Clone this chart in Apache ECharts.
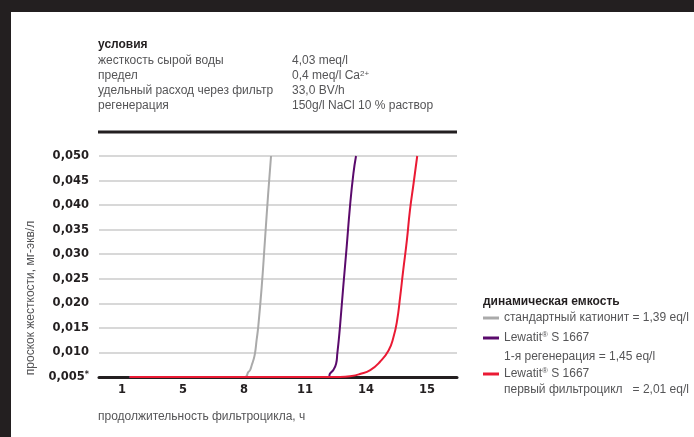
<!DOCTYPE html>
<html>
<head>
<meta charset="utf-8">
<script src="https://cdn.jsdelivr.net/npm/echarts@6/dist/echarts.min.js"></script>
<style>
  html, body { margin: 0; padding: 0; background: #ffffff; }
  #chart { width: 694px; height: 437px; }
</style>
</head>
<body>
<div id="chart"></div>
<script>
// ---- data ----
const tickHours = [1, 5, 8, 11, 14, 15];
const tickLabels = ['1', '5', '8', '11', '14', '15'];
const yTicks = [0.005, 0.010, 0.015, 0.020, 0.025, 0.030, 0.035, 0.040, 0.045, 0.050];

const seriesNames = [
  'стандартный катионит = 1,39 eq/l',
  'Lewatit® S 1667 (1-я регенерация)',
  'Lewatit® S 1667 (первый фильтроцикл)'
];

const standardHours  = [1.5, 8.05, 8.21, 8.30, 8.38, 8.46, 8.54, 8.62, 8.70, 8.87, 9.03, 9.19, 9.33];
const standardValues = [0.005, 0.005, 0.0060, 0.0064, 0.0074, 0.0084, 0.0098, 0.0125, 0.0152, 0.0233, 0.0328, 0.0424, 0.050];

const regenHours  = [1.5, 12.15, 12.23, 12.39, 12.53, 12.59, 12.66, 12.72, 12.88, 13.05, 13.21, 13.38, 13.51];
const regenValues = [0.005, 0.005, 0.0057, 0.0064, 0.0077, 0.0098, 0.0125, 0.0152, 0.0233, 0.0315, 0.0396, 0.0464, 0.050];

const firstHours  = [1.5, 12.72, 13.30, 13.70, 14.07, 14.23, 14.37, 14.45, 14.51, 14.56, 14.61, 14.67, 14.72, 14.78, 14.84];
const firstValues = [0.005, 0.005, 0.0052, 0.0056, 0.0064, 0.0081, 0.0104, 0.0131, 0.0165, 0.0213, 0.0267, 0.0328, 0.0389, 0.0444, 0.050];

const colors = ['#aaaaaa', '#5a0a6c', '#ea1a34'];

// The x axis shows equally spaced but non-linear hour labels:
// map hours to the label slot positions piecewise between ticks.
function hourToSlot(h) {
  for (let i = 0; i < tickHours.length - 1; i++) {
    if (h <= tickHours[i + 1] || i === tickHours.length - 2) {
      return i + (h - tickHours[i]) / (tickHours[i + 1] - tickHours[i]);
    }
  }
  return 0;
}
function pairs(hours, values) {
  return hours.map((h, i) => [hourToSlot(h), values[i]]);
}

const textGray = '#555557';
const dark = '#231f20';
const baseFont = '"Liberation Sans", Arial, sans-serif';

const chart = echarts.init(document.getElementById('chart'));

const lineSeries = [
  [standardHours, standardValues],
  [regenHours, regenValues],
  [firstHours, firstValues]
].map((d, i) => ({
  name: seriesNames[i],
  type: 'line',
  data: pairs(d[0], d[1]),
  symbol: 'none',
  smooth: 0.5,
  lineStyle: { color: colors[i], width: 2 },
  itemStyle: { color: colors[i] },
  z: 3 + i
}));

const legendFirstLines = [
  'стандартный катионит = 1,39 eq/l',
  'Lewatit{r|®} S 1667',
  'Lewatit{r|®} S 1667'
];
const legendTops = [311, 331, 367];

const legends = seriesNames.map((n, i) => ({
  data: [n],
  left: 483,
  top: legendTops[i],
  padding: 0,
  icon: 'rect',
  itemWidth: 16,
  itemHeight: 3,
  formatter: () => legendFirstLines[i],
  textStyle: {
    color: textGray,
    fontSize: 12,
    lineHeight: 14,
    fontFamily: baseFont,
    rich: {
      r: { fontSize: 8, verticalAlign: 'top', lineHeight: 9, color: textGray, fontFamily: baseFont }
    }
  }
}));

function txt(x, y, text, opts) {
  return {
    type: 'text', x: x, y: y, silent: true,
    style: Object.assign({
      text: text, fill: textGray,
      font: '12px ' + baseFont,
      verticalAlign: 'middle', align: 'left'
    }, opts || {})
  };
}

const yName = txt(31, 298, 'проскок жесткости, мг-экв/л', { align: 'center' });
yName.rotation = Math.PI / 2;

const option = {
  animation: false,
  backgroundColor: '#ffffff',
  grid: { left: 99, right: 237, top: 156, bottom: 60 },
  xAxis: {
    type: 'value',
    min: -0.377,
    max: 5.492,
    axisLine: { show: true, lineStyle: { color: dark, width: 3 } },
    axisTick: { show: false },
    splitLine: { show: false },
    axisLabel: {
      customValues: [0, 1, 2, 3, 4, 5],
      formatter: v => tickLabels[Math.round(v)],
      color: dark,
      fontWeight: 'bold',
      fontSize: 11.5,
      fontFamily: '"DejaVu Sans", sans-serif',
      margin: 7
    }
  },
  yAxis: {
    type: 'value',
    min: yTicks[0],
    max: yTicks[yTicks.length - 1],
    interval: 0.005,
    axisLine: { show: false },
    axisTick: { show: false },
    splitLine: { lineStyle: { color: '#cbcbcb', width: 1.5 } },
    axisLabel: {
      margin: 10,
      color: dark,
      fontWeight: 'bold',
      fontSize: 11.5,
      fontFamily: '"DejaVu Sans", sans-serif',
      formatter: v => {
        const s = v.toFixed(3).replace('.', ',');
        return Math.abs(v - yTicks[0]) < 1e-9 ? s + '{s|*}' : s;
      },
      rich: {
        s: { fontSize: 8, verticalAlign: 'top', lineHeight: 8, color: dark, fontWeight: 'bold', fontFamily: '"DejaVu Sans", sans-serif' }
      }
    }
  },
  legend: legends,
  series: lineSeries,
  graphic: [
    { type: 'rect', silent: true, shape: { x: 0, y: 0, width: 694, height: 12 }, style: { fill: dark } },
    { type: 'rect', silent: true, shape: { x: 0, y: 0, width: 11, height: 437 }, style: { fill: dark } },
    txt(98, 45, 'условия', { fill: dark, font: 'bold 12px ' + baseFont }),
    txt(98, 61, 'жесткость сырой воды'),
    txt(98, 76, 'предел'),
    txt(98, 91, 'удельный расход через фильтр'),
    txt(98, 106, 'регенерация'),
    txt(292, 61, '4,03 meq/l'),
    txt(292, 76, '0,4 meq/l Ca{sup|2+}', {
      rich: { sup: { fontSize: 8, verticalAlign: 'top', lineHeight: 8, fill: textGray, fontFamily: baseFont } }
    }),
    txt(292, 91, '33,0 BV/h'),
    txt(292, 106, '150g/l NaCl 10 % раствор'),
    { type: 'line', silent: true, shape: { x1: 98, y1: 132, x2: 457, y2: 132 }, style: { stroke: dark, lineWidth: 3 } },
    yName,
    txt(98, 417, 'продолжительность фильтроцикла, ч'),
    txt(483, 302, 'динамическая емкость', { fill: dark, font: 'bold 12px ' + baseFont }),
    txt(504, 357, '1-я регенерация = 1,45 eq/l'),
    txt(504, 390, 'первый фильтроцикл   = 2,01 eq/l')
  ]
};

chart.setOption(option);
</script>
</body>
</html>
